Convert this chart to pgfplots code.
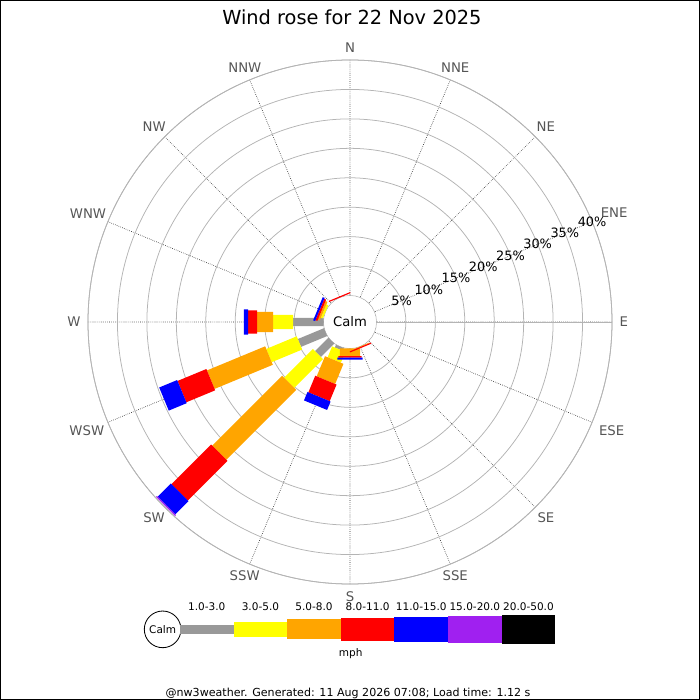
\documentclass[border=0pt]{standalone}
\usepackage{fontspec}
\setmainfont{DejaVu Sans}
\usepackage{pgfplots}
\pgfplotsset{compat=1.18}
\usepgfplotslibrary{polar}
\usetikzlibrary{calc}
\definecolor{cgray}{HTML}{999999}
\definecolor{cyellow}{HTML}{FFFF00}
\definecolor{corange}{HTML}{FFA500}
\definecolor{cred}{HTML}{FF0000}
\definecolor{cblue}{HTML}{0000FF}
\definecolor{cpurple}{HTML}{A020F0}
\definecolor{lblgray}{HTML}{555555}
\definecolor{gridgray}{HTML}{B4B4B4}
\newcommand{\calm}{4.49}
\newcommand{\fs}[1]{\fontsize{#1}{#1}\selectfont}
\begin{document}
\begin{tikzpicture}
\begin{polaraxis}[
  scale only axis, width=377.28bp, height=377.28bp,
  xmin=0, xmax=360, ymin=0, ymax=44.49,
  xtick={0,22.5,...,337.5},
  ytick={4.49,9.49,14.49,19.49,24.49,29.49,34.49,39.49,44.49},
  xticklabels={}, yticklabels={},
  major tick length=0pt,
  grid=major,
  x grid style={black!85, densely dotted, line width=0.5bp},
  y grid style={gridgray, line width=0.55bp},
  axis line style={gridgray, line width=0.55bp},
  clip=false,
  unbounded coords=jump,
]
\coordinate (C) at (axis cs:0,0);
\fill[white] (axis cs:0,0) circle[radius=18.7bp];
% 1.0-3.0 mph
\addplot[draw=cgray, line width=6.1bp, line cap=butt, no markers] table[x=a, y expr=\thisrow{r}+\calm] {
a r
180 0
180 5.15
nan nan
202.5 0
202.5 4.8
nan nan
225 0
225 3.2
nan nan
247.5 0
247.5 0.5
};
% 3.0-5.0 mph
\addplot[draw=cyellow, line width=10.3bp, line cap=butt, no markers] table[x=a, y expr=\thisrow{r}+\calm] {
a r
157.5 0
157.5 0.35
nan nan
180 5.15
180 8.55
nan nan
202.5 4.8
202.5 10.4
nan nan
225 3.2
225 10.1
nan nan
247.5 0.5
247.5 2.5
};
% 5.0-8.0 mph
\addplot[draw=corange, line width=14.4bp, line cap=butt, no markers] table[x=a, y expr=\thisrow{r}+\calm] {
a r
157.5 0.35
157.5 0.7
nan nan
180 8.55
180 11.28
nan nan
202.5 10.4
202.5 21.1
nan nan
225 10.1
225 26.9
nan nan
247.5 2.5
247.5 6.2
nan nan
270 0
270 1.3
nan nan
292.5 0
292.5 0.1
};
% 8.0-11.0 mph
\addplot[draw=cred, line width=16.6bp, line cap=butt, no markers] table[x=a, y expr=\thisrow{r}+\calm] {
a r
112.5 0
112.5 0.2
nan nan
157.5 0.7
157.5 1.05
nan nan
180 11.28
180 12.8
nan nan
202.5 21.1
202.5 26.4
nan nan
225 26.9
225 36.4
nan nan
247.5 6.2
247.5 9.25
nan nan
270 1.3
270 1.55
nan nan
292.5 0.1
292.5 0.3
};
% 11.0-15.0 mph
\addplot[draw=cblue, line width=18bp, line cap=butt, no markers] table[x=a, y expr=\thisrow{r}+\calm] {
a r
157.5 1.05
157.5 1.4
nan nan
180 12.8
180 13.54
nan nan
202.5 26.4
202.5 29.7
nan nan
225 36.4
225 39.6
nan nan
247.5 9.25
247.5 10.8
nan nan
270 1.55
270 1.9
};
% 15.0-20.0 mph
\addplot[draw=cpurple, line width=19.4bp, line cap=butt, no markers] table[x=a, y expr=\thisrow{r}+\calm] {
a r
225 39.6
225 39.8
};
\node[font=\fs{9.5}] at (axis cs:0,0) {Calm};
% percentage labels
\node[font=\fs{9.3}] at (axis cs:22.5,9.49) {5\%};
\node[font=\fs{9.3}] at (axis cs:22.5,14.49) {10\%};
\node[font=\fs{9.3}] at (axis cs:22.5,19.49) {15\%};
\node[font=\fs{9.3}] at (axis cs:22.5,24.49) {20\%};
\node[font=\fs{9.3}] at (axis cs:22.5,29.49) {25\%};
\node[font=\fs{9.3}] at (axis cs:22.5,34.49) {30\%};
\node[font=\fs{9.3}] at (axis cs:22.5,39.49) {35\%};
\node[font=\fs{9.3}] at (axis cs:22.5,44.49) {40\%};
% direction labels
\tikzset{dl/.style={font=\fs{9.6}, text=lblgray, inner sep=0.6bp}}
\node[dl, anchor=270] at (axis cs:90,45.58) {N};
\node[dl, anchor=247.5] at (axis cs:67.5,45.58) {NNE};
\node[dl, anchor=225] at (axis cs:45,45.58) {NE};
\node[dl, anchor=202.5] at (axis cs:22.5,45.9) {ENE};
\node[dl, anchor=180] at (axis cs:0,45.58) {E};
\node[dl, anchor=157.5] at (axis cs:337.5,45.58) {ESE};
\node[dl, anchor=135] at (axis cs:315,45.58) {SE};
\node[dl, anchor=112.5] at (axis cs:292.5,45.58) {SSE};
\node[dl, anchor=90] at (axis cs:270,45.58) {S};
\node[dl, anchor=67.5] at (axis cs:247.5,45.58) {SSW};
\node[dl, anchor=45] at (axis cs:225,45.58) {SW};
\node[dl, anchor=22.5] at (axis cs:202.5,45.58) {WSW};
\node[dl, anchor=0] at (axis cs:180,45.58) {W};
\node[dl, anchor=337.5] at (axis cs:157.5,45.58) {WNW};
\node[dl, anchor=315] at (axis cs:135,45.58) {NW};
\node[dl, anchor=292.5] at (axis cs:112.5,45.58) {NNW};
\end{polaraxis}
\begin{scope}[shift={(C)}]
\node[font=\fs{14}] at (1.4bp,219.6bp) {Wind rose for 22 Nov 2025};
% legend
\draw[black, line width=0.6bp, fill=white] (-134.9bp,-221.3bp) circle[radius=13.2bp];
\node[font=\fs{7.6}] at (-134.9bp,-221.3bp) {Calm};
\fill[cgray]   (-122.4bp,-224.35bp) rectangle (-83.8bp,-218.25bp);
\fill[cyellow] (-83.8bp,-226.7bp) rectangle (-45.2bp,-215.9bp);
\fill[corange] (-45.2bp,-228.5bp) rectangle (-6.6bp,-214.1bp);
\fill[cred]    (-6.6bp,-229.6bp) rectangle (32.0bp,-213.0bp);
\fill[cblue]   (32.0bp,-230.3bp) rectangle (70.6bp,-212.3bp);
\fill[cpurple] (70.6bp,-231.0bp) rectangle (109.2bp,-211.6bp);
\fill[black]   (109.2bp,-231.75bp) rectangle (147.8bp,-210.85bp);
\node[font=\fs{7.6}] at (-103.1bp,-205.2bp) {1.0-3.0};
\node[font=\fs{7.6}] at (-64.5bp,-205.2bp) {3.0-5.0};
\node[font=\fs{7.6}] at (-25.9bp,-205.2bp) {5.0-8.0};
\node[font=\fs{7.6}] at (12.7bp,-205.2bp) {8.0-11.0};
\node[font=\fs{7.6}] at (51.3bp,-205.2bp) {11.0-15.0};
\node[font=\fs{7.6}] at (89.9bp,-205.2bp) {15.0-20.0};
\node[font=\fs{7.6}] at (128.5bp,-205.2bp) {20.0-50.0};
\node[font=\fs{7.6}] at (0.5bp,-238.5bp) {mph};
\node[font=\fs{8}] at (-1.4bp,-267.1bp) {@nw3weather. Generated: 11 Aug 2026 07:08; Load time: 1.12 s};
\draw[black, line width=0.72bp] (-251.64bp,-271.8bp) rectangle (251.64bp,231.48bp);
\pgfresetboundingbox
\path[use as bounding box] (-252bp,-272.16bp) rectangle (252bp,231.84bp);
\end{scope}
\end{tikzpicture}
\end{document}
